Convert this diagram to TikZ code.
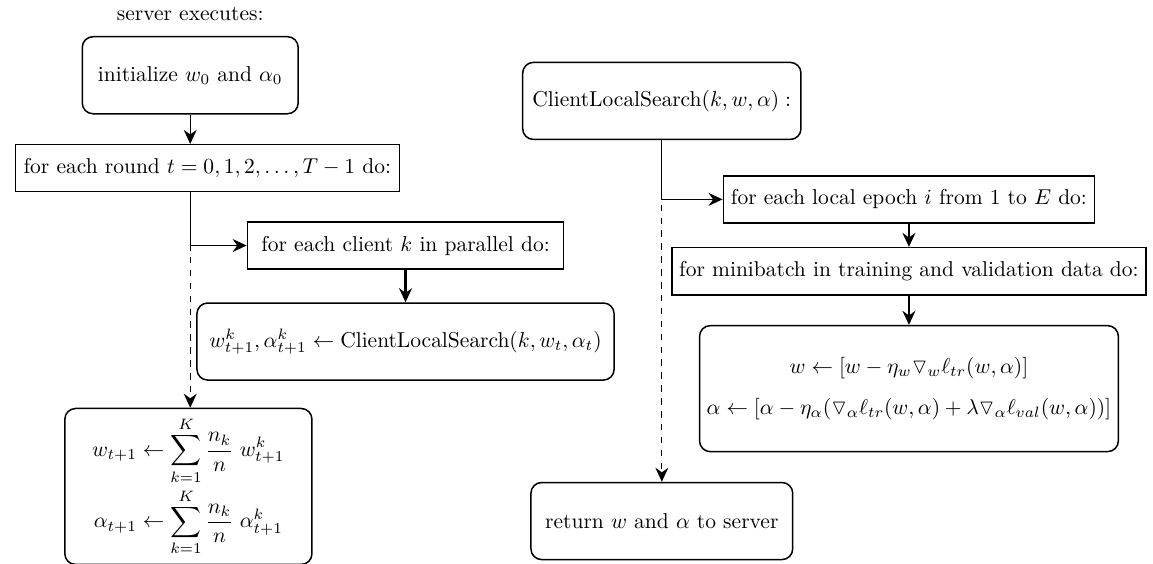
\documentclass[tikz,border=0pt]{standalone}
\usepackage{amsmath,amssymb}
\usetikzlibrary{positioning,arrows.meta}
\tikzset{
round_box/.style={rectangle, rounded corners=5pt, draw, line width=0.7pt, align=center, minimum height=1.26cm},
loop_box/.style={rectangle, draw, line width=0.7pt, minimum height=0.77cm},
flow/.style={-{Stealth[length=6.5pt,width=6pt]}, semithick},
flow_bold/.style={-{Stealth[length=6.5pt,width=6pt]}, line width=1.1pt},
skip/.style={-{Stealth[length=6.5pt,width=6pt]}, semithick, dashed}
}

\begin{document}
\begin{tikzpicture}
    \useasboundingbox (0,0) rectangle (18.85,-9.22);
    % server side
    \node[round_box, minimum width=3.53cm] (init) at (3.11,-1.23) {initialize $w_0$ and $\alpha_0$};
    \node (title) [above=0.13cm of init] {server executes:};
    \node[loop_box, minimum width=6.28cm] (round) [below=0.48cm of init, xshift=0.28cm] {for each round $t=0,1,2,\ldots,T-1$ do:};
    \node[loop_box, minimum width=5.17cm] (client) [below=0.47cm of round, xshift=3.24cm] {for each client $k$ in parallel do:};
    \node[round_box, minimum width=6.82cm] (call) [below=0.53cm of client] {$w^k_{t+1},\alpha^k_{t+1} \leftarrow \mathrm{ClientLocalSearch}(k,w_t,\alpha_t)$};
    \node[round_box, minimum width=4.04cm, minimum height=2.55cm, inner ysep=2pt] (agg) [below=0.44cm of call, xshift=-3.55cm]
        {$\displaystyle w_{t+1} \leftarrow \sum_{k=1}^{K} \frac{n_k}{n}\; w^k_{t+1}$\\[1pt]
         $\displaystyle \alpha_{t+1} \leftarrow \sum_{k=1}^{K} \frac{n_k}{n}\; \alpha^k_{t+1}$};
    \draw[flow] (init) -- (init |- round.north);
    \draw[flow] (init |- round.south) |- (client);
    \draw[skip] (init |- round.south) -- (init |- agg.north);
    \draw[flow_bold] (client) -- (call);
    % client side
    \node[round_box, minimum width=4.55cm] (cls) at (10.82,-1.65) {$\mathrm{ClientLocalSearch}(k,w,\alpha):$};
    \node[loop_box, minimum width=6.07cm] (epoch) [below=0.57cm of cls, xshift=4.04cm] {for each local epoch $i$ from 1 to $E$ do:};
    \node[loop_box, minimum width=7.70cm] (batch) [below=0.38cm of epoch] {for minibatch in training and validation data do:};
    \node[round_box, minimum width=6.82cm, minimum height=2.06cm] (update) [below=0.48cm of batch]
        {$w \leftarrow [w-\eta_w \triangledown_w \ell_{tr}(w,\alpha)]$\\[7pt]
         $\alpha \leftarrow [\alpha-\eta_\alpha(\triangledown_\alpha \ell_{tr}(w,\alpha)+\lambda \triangledown_\alpha \ell_{val}(w,\alpha))]$};
    \node[round_box, minimum width=4.28cm] (ret) [below=0.48cm of update, xshift=-4.04cm] {return $w$ and $\alpha$ to server};
    \draw[flow] (cls) |- (epoch);
    \draw[skip] (cls) -- (ret);
    \draw[flow_bold] (epoch) -- (batch);
    \draw[flow_bold] (batch) -- (update);
\end{tikzpicture}
\end{document}
